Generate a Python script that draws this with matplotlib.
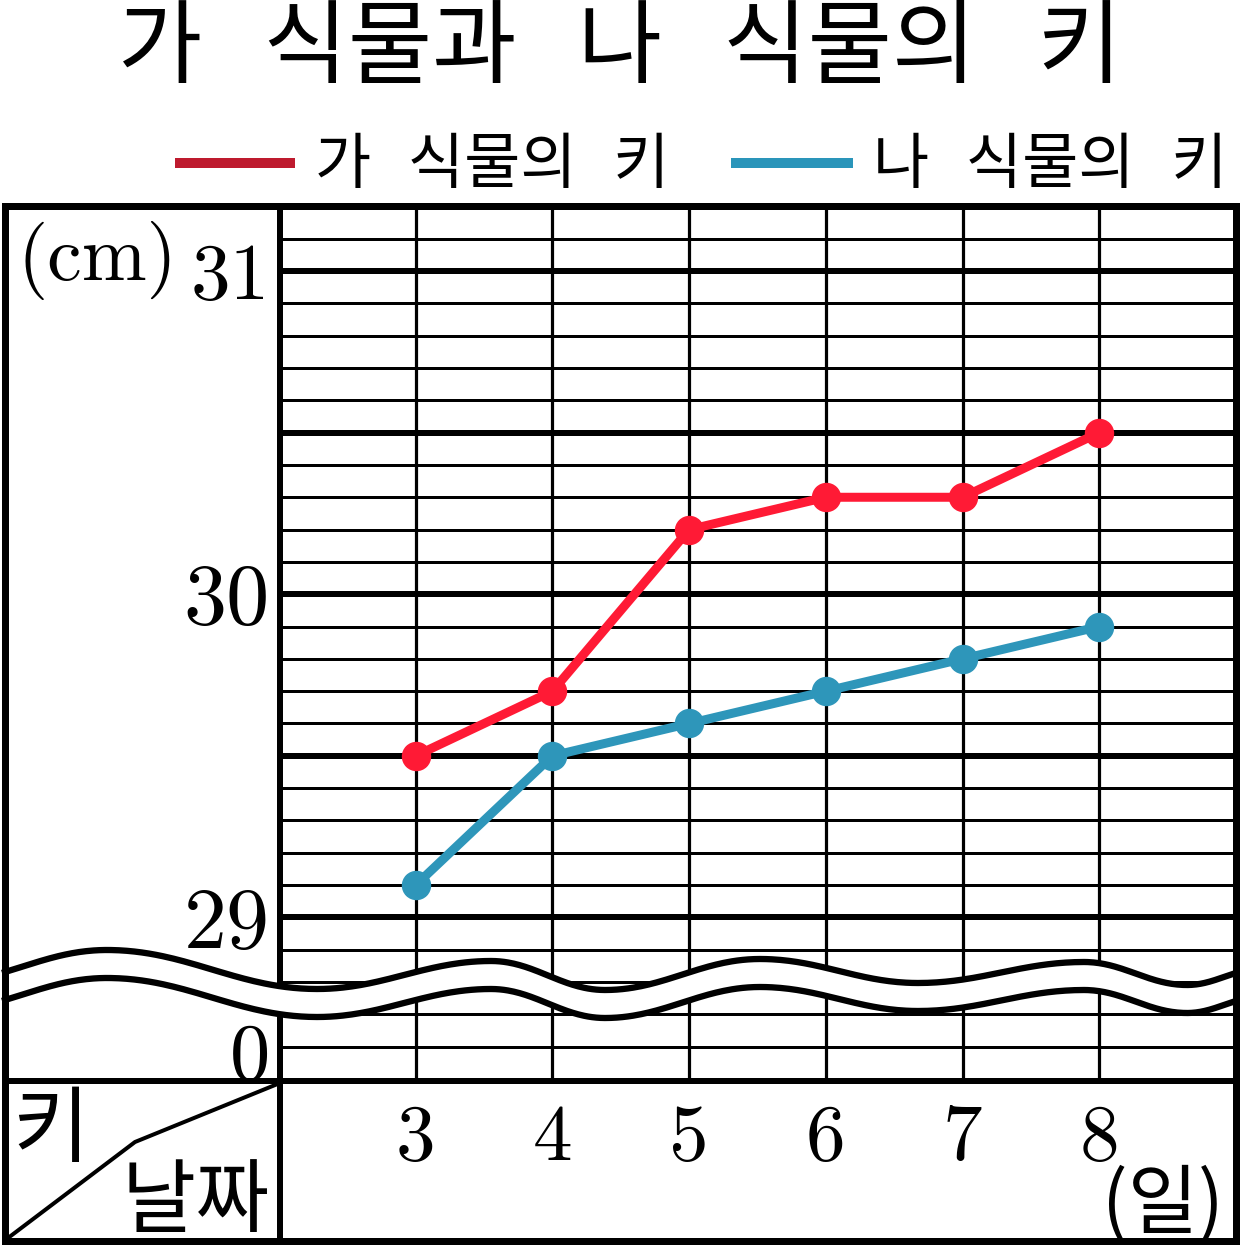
import numpy as np
import matplotlib
matplotlib.use('Agg')
import matplotlib.pyplot as plt

# ---------------- data ----------------
DAYS = [3, 4, 5, 6, 7, 8]
DAY_LABELS = ['3', '4', '5', '6', '7', '8']
PLANT_GA = [29.5, 29.7, 30.2, 30.3, 30.3, 30.5]
PLANT_NA = [29.1, 29.5, 29.6, 29.7, 29.8, 29.9]
Y_TICKS = [0, 29, 30, 31]
Y_TICK_LABELS = ['0', '29', '30', '31']
SERIES_NAMES = ['가 식물의 키', '나 식물의 키']
TITLE = '가 식물과 나 식물의 키'
UNIT_Y = '(cm)'
UNIT_X = '(일)'
CORNER_TOP = '키'
CORNER_BOTTOM = '날짜'

# ---------------- layout / style ----------------
W, H = 1241, 1247
PT = 0.72  # points per pixel at dpi 100
KFONT = ['Noto Sans CJK KR', 'DejaVu Sans']
NFONT = 'cmr10'
RED_LINE, RED_LEG = '#FF1A35', '#BE1A2E'
BLUE_LINE, BLUE_LEG = '#2E96BA', '#2A95BA'
YLABEL_SIZES = [58, 62, 62, 57]


def sp(s, gap):
    return s.replace(' ', gap)


def fwd(y):
    y = np.asarray(y, float)
    return np.where(y >= 29, y - 28.5, y / 58.0)


def inv(v):
    v = np.asarray(v, float)
    return np.where(v >= 0.5, v + 28.5, v * 58.0)


fig = plt.figure(figsize=(W / 100, H / 100), dpi=100, facecolor='white')

# main plotting area (pixel box 279..1236 x 206.4..1079)
L, R, T, B = 279, 1236, 206.4, 1079
ax = fig.add_axes([L / W, 1 - B / H, (R - L) / W, (B - T) / H])
ax.set_yscale('function', functions=(fwd, inv))
ax.set_xlim(2, 9)
ax.set_ylim(0, 31.2)
for s in ax.spines.values():
    s.set_visible(False)

# horizontal grid (every 0.1 on the scaled axis)
for i in range(1, 27):
    thick = (i % 5 == 0)
    ax.axhline(float(inv(i / 10)), color='black',
               lw=(6 if thick else 3) * PT, zorder=1)
for d in DAYS:
    ax.axvline(d, color='black', lw=3.2 * PT, zorder=1)

ax.plot(DAYS, PLANT_GA, color=RED_LINE, lw=9 * PT, marker='o',
        ms=28 * PT, zorder=4, clip_on=False)
ax.plot(DAYS, PLANT_NA, color=BLUE_LINE, lw=9 * PT, marker='o',
        ms=28 * PT, zorder=4, clip_on=False)

ax.set_xticks(DAYS, DAY_LABELS)
ax.set_yticks(Y_TICKS, Y_TICK_LABELS)
ax.tick_params(length=0)
ax.tick_params(axis='x', pad=(1160 - B) * PT)
ax.tick_params(axis='y', pad=9 * PT)
for lbl in ax.get_xticklabels():
    lbl.set_fontfamily(NFONT)
    lbl.set_fontsize(57)
    lbl.set_va('baseline')
for lbl, fs in zip(ax.get_yticklabels(), YLABEL_SIZES):
    lbl.set_fontfamily(NFONT)
    lbl.set_fontsize(fs)
ax.get_yticklabels()[0].set_va('baseline')

# ---------------- decoration overlay in pixel coordinates ----------------
deco = fig.add_axes([0, 0, 1, 1], zorder=5)
deco.set_xlim(0, W)
deco.set_ylim(H, 0)
deco.axis('off')

# table borders
deco.plot([280, 280], [206, 1241], color='black', lw=6 * PT, zorder=1)
deco.plot([5, 1236], [1081, 1081], color='black', lw=6 * PT, zorder=1)
deco.plot([280, 135, 8], [1083, 1142, 1238], color='black', lw=4 * PT,
          zorder=1, solid_joinstyle='round')
deco.plot([5, 1236, 1236, 5, 5], [206, 206, 1241, 1241, 206], color='black',
          lw=7 * PT, zorder=1, solid_joinstyle='miter')

# wavy break band
WX = [5, 107, 317, 491, 605, 760, 918, 1084, 1187, 1236]
WY = [972, 950, 989, 961, 990, 959, 983, 962, 985, 973]
K = 0.38
xs_all, ys_all = [], []
for i in range(len(WX) - 1):
    x0, y0, x1, y1 = WX[i], WY[i], WX[i + 1], WY[i + 1]
    dx = x1 - x0
    if i == 0:
        c1 = (x0 + dx / 3, y0 - 0.30 * dx / 3)
    else:
        c1 = (x0 + K * dx, y0)
    if i == len(WX) - 2:
        c2 = (x1 - dx / 3, y1 + 0.30 * dx / 3)
    else:
        c2 = (x1 - K * dx, y1)
    t = np.linspace(0, 1, 60)[:, None]
    P = ((1 - t) ** 3 * np.array([x0, y0]) + 3 * (1 - t) ** 2 * t * np.array(c1)
         + 3 * (1 - t) * t ** 2 * np.array(c2) + t ** 3 * np.array([x1, y1]))
    if i > 0:
        P = P[1:]
    xs_all.append(P[:, 0])
    ys_all.append(P[:, 1])
wx = np.concatenate(xs_all)
wy = np.concatenate(ys_all)
GAP = 28
deco.fill_between(wx, wy, wy + GAP, color='white', zorder=2, lw=0)
deco.plot(wx, wy, color='black', lw=6.3 * PT, zorder=3)
deco.plot(wx, wy + GAP, color='black', lw=6.3 * PT, zorder=3)
deco.plot([5, 5], [206, 1241], color='black', lw=7 * PT, zorder=4)
deco.plot([1236, 1236], [206, 1241], color='black', lw=7 * PT, zorder=4)

# texts
deco.text(620, 50, sp(TITLE, '\u2002\u2006'), fontsize=66, family=KFONT,
          ha='center', va='center')

deco.plot([175, 295], [163, 163], color=RED_LEG, lw=10 * PT, solid_capstyle='butt')
deco.text(315, 166, sp(SERIES_NAMES[0], '\u2002\u200a'), fontsize=44, family=KFONT,
          ha='left', va='center')
deco.plot([731, 853], [163, 163], color=BLUE_LEG, lw=10 * PT, solid_capstyle='butt')
deco.text(873, 166, sp(SERIES_NAMES[1], '\u2002\u200a'), fontsize=44, family=KFONT,
          ha='left', va='center')

deco.text(97, 261, UNIT_Y, fontsize=56, family=NFONT, ha='center', va='center')
deco.text(51, 1131, CORNER_TOP, fontsize=60, family=KFONT, ha='center', va='center')
deco.text(196, 1203, CORNER_BOTTOM, fontsize=58, family=KFONT, ha='center', va='center')
deco.text(1163, 1206, UNIT_X, fontsize=55, family=KFONT, ha='center', va='center')

fig.savefig('out.png', dpi=100, facecolor='white')
